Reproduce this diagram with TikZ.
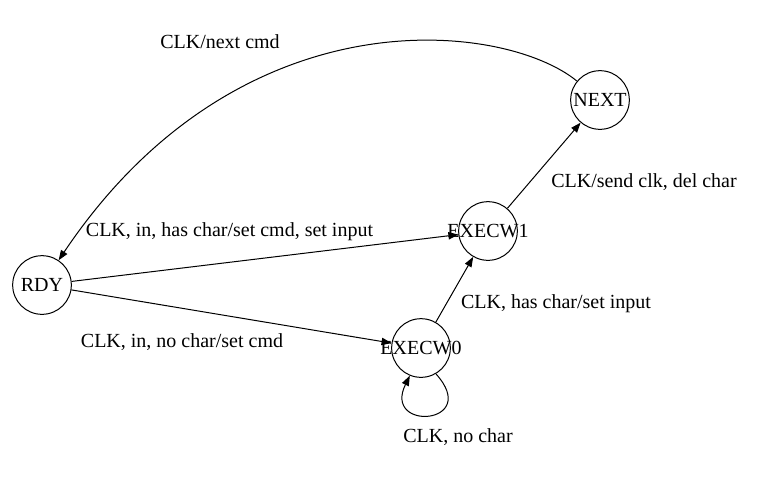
\documentclass[tikz,border=0pt]{standalone}
\usepackage{fontspec}
\setmainfont{Liberation Serif}
\usetikzlibrary{arrows.meta}
\begin{document}
\begin{tikzpicture}[x=0.75pt,y=-0.75pt,
  every node/.style={font=\fontsize{15}{18}\selectfont},
  state/.style={draw,circle,minimum size=44pt,inner sep=0pt,line width=0.75pt},
  lbl/.style={anchor=base,inner sep=0pt},
  arr/.style={line width=0.75pt,-{Triangle[length=7.5pt,width=5.5pt]}}]
\useasboundingbox (0,0) rectangle (758,487);
\node[state,label={center:RDY}] (RDY) at (42,285) {};
\node[state,label={center:EXECW1}] (EXECW1) at (488,231) {};
\node[state,label={center:EXECW0}] (EXECW0) at (421,348) {};
\node[state,label={center:NEXT}] (NEXT) at (600,100) {};
\draw[arr] (NEXT) .. controls (505,22) and (240,-10) .. (RDY);
\draw[arr] (RDY) -- (EXECW1);
\draw[arr] (RDY) -- (EXECW0);
\draw[arr] (EXECW0) -- (EXECW1);
\draw[arr] (EXECW1) -- (NEXT);
\draw[arr] (EXECW0.-60) .. controls (482,425) and (382,432) .. (EXECW0.-112);
\node[lbl] (l1) at (220,48) {CLK/next cmd};
\node[lbl] (l2) at (644,187.5) {CLK/send clk, del char};
\node[lbl] (l3) at (229.5,236.5) {CLK, in, has char/set cmd, set input};
\node[lbl] (l4) at (556,308.5) {CLK, has char/set input};
\node[lbl] (l5) at (182,347.5) {CLK, in, no char/set cmd};
\node[lbl] (l6) at (458,442.5) {CLK, no char};
\end{tikzpicture}
\end{document}
